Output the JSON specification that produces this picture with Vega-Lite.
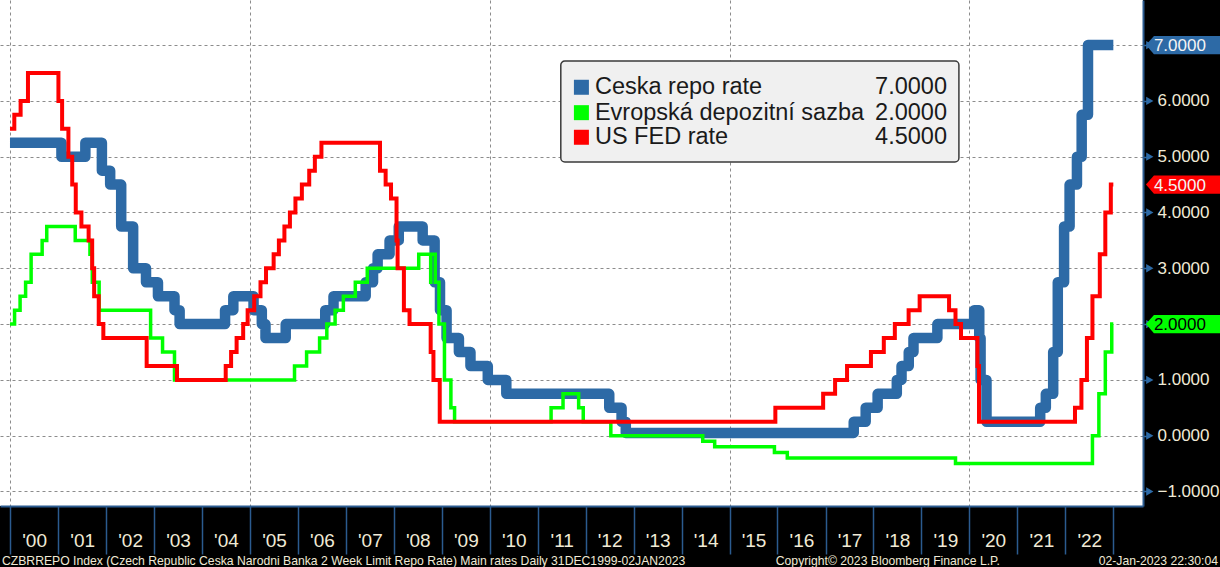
{
  "$schema": "https://vega.github.io/schema/vega-lite/v6.json",
  "width": 1143,
  "height": 506,
  "autosize": {"type": "none"},
  "padding": {"left": 0, "top": 0, "right": 77, "bottom": 61},
  "background": "#000000",
  "view": {"fill": "#ffffff", "stroke": null},
  "datasets": {
    "cz": [
      {"date": "1999-12-31", "rate": 5.25}, {"date": "2001-01-26", "rate": 5.0}, {"date": "2001-07-27", "rate": 5.25},
      {"date": "2001-11-30", "rate": 4.75}, {"date": "2002-02-01", "rate": 4.5}, {"date": "2002-04-26", "rate": 3.75},
      {"date": "2002-07-26", "rate": 3.0}, {"date": "2002-11-01", "rate": 2.75}, {"date": "2003-01-31", "rate": 2.5},
      {"date": "2003-06-06", "rate": 2.25}, {"date": "2003-07-15", "rate": 2.0}, {"date": "2004-06-25", "rate": 2.25},
      {"date": "2004-08-27", "rate": 2.5}, {"date": "2005-01-28", "rate": 2.25}, {"date": "2005-04-01", "rate": 2.0},
      {"date": "2005-04-29", "rate": 1.75}, {"date": "2005-09-30", "rate": 2.0}, {"date": "2006-07-28", "rate": 2.25},
      {"date": "2006-09-29", "rate": 2.5}, {"date": "2007-06-01", "rate": 2.75}, {"date": "2007-07-27", "rate": 3.0},
      {"date": "2007-08-31", "rate": 3.25}, {"date": "2007-11-30", "rate": 3.5}, {"date": "2008-02-08", "rate": 3.75},
      {"date": "2008-08-08", "rate": 3.5}, {"date": "2008-11-07", "rate": 2.75}, {"date": "2008-12-18", "rate": 2.25},
      {"date": "2009-02-06", "rate": 1.75}, {"date": "2009-05-11", "rate": 1.5}, {"date": "2009-08-07", "rate": 1.25},
      {"date": "2009-12-17", "rate": 1.0}, {"date": "2010-05-07", "rate": 0.75}, {"date": "2012-06-29", "rate": 0.5},
      {"date": "2012-10-01", "rate": 0.25}, {"date": "2012-11-02", "rate": 0.05}, {"date": "2017-08-04", "rate": 0.25},
      {"date": "2017-11-03", "rate": 0.5}, {"date": "2018-02-02", "rate": 0.75}, {"date": "2018-06-28", "rate": 1.0},
      {"date": "2018-08-03", "rate": 1.25}, {"date": "2018-09-27", "rate": 1.5}, {"date": "2018-11-02", "rate": 1.75},
      {"date": "2019-05-03", "rate": 2.0}, {"date": "2020-02-07", "rate": 2.25}, {"date": "2020-03-17", "rate": 1.75},
      {"date": "2020-03-27", "rate": 1.0}, {"date": "2020-05-11", "rate": 0.25}, {"date": "2021-06-24", "rate": 0.5},
      {"date": "2021-08-06", "rate": 0.75}, {"date": "2021-10-01", "rate": 1.5}, {"date": "2021-11-05", "rate": 2.75},
      {"date": "2021-12-23", "rate": 3.75}, {"date": "2022-02-03", "rate": 4.5}, {"date": "2022-03-31", "rate": 5.0},
      {"date": "2022-05-06", "rate": 5.75}, {"date": "2022-06-23", "rate": 7.0}, {"date": "2023-01-02", "rate": 7.0}
    ],
    "ecb": [
      {"date": "1999-12-31", "rate": 2.0}, {"date": "2000-02-04", "rate": 2.25}, {"date": "2000-03-17", "rate": 2.5},
      {"date": "2000-04-28", "rate": 2.75}, {"date": "2000-06-09", "rate": 3.25}, {"date": "2000-09-01", "rate": 3.5},
      {"date": "2000-10-06", "rate": 3.75}, {"date": "2001-05-11", "rate": 3.5}, {"date": "2001-08-31", "rate": 3.25},
      {"date": "2001-09-18", "rate": 2.75}, {"date": "2001-11-09", "rate": 2.25}, {"date": "2002-12-06", "rate": 1.75},
      {"date": "2003-03-07", "rate": 1.5}, {"date": "2003-06-06", "rate": 1.0}, {"date": "2005-12-06", "rate": 1.25},
      {"date": "2006-03-08", "rate": 1.5}, {"date": "2006-06-15", "rate": 1.75}, {"date": "2006-08-09", "rate": 2.0},
      {"date": "2006-10-11", "rate": 2.25}, {"date": "2006-12-13", "rate": 2.5}, {"date": "2007-03-14", "rate": 2.75},
      {"date": "2007-06-13", "rate": 3.0}, {"date": "2008-07-09", "rate": 3.25}, {"date": "2008-10-08", "rate": 2.75},
      {"date": "2008-10-09", "rate": 3.25}, {"date": "2008-11-12", "rate": 2.75}, {"date": "2008-12-10", "rate": 2.0},
      {"date": "2009-01-21", "rate": 1.0}, {"date": "2009-03-11", "rate": 0.5}, {"date": "2009-04-08", "rate": 0.25},
      {"date": "2011-04-13", "rate": 0.5}, {"date": "2011-07-13", "rate": 0.75}, {"date": "2011-11-09", "rate": 0.5},
      {"date": "2011-12-14", "rate": 0.25}, {"date": "2012-07-11", "rate": 0.0}, {"date": "2014-06-11", "rate": -0.1},
      {"date": "2014-09-10", "rate": -0.2}, {"date": "2015-12-09", "rate": -0.3}, {"date": "2016-03-16", "rate": -0.4},
      {"date": "2019-09-18", "rate": -0.5}, {"date": "2022-07-27", "rate": 0.0}, {"date": "2022-09-14", "rate": 0.75},
      {"date": "2022-11-02", "rate": 1.5}, {"date": "2022-12-21", "rate": 2.0}, {"date": "2023-01-02", "rate": 2.0}
    ],
    "fed": [
      {"date": "1999-12-31", "rate": 5.5}, {"date": "2000-02-02", "rate": 5.75}, {"date": "2000-03-21", "rate": 6.0},
      {"date": "2000-05-16", "rate": 6.5}, {"date": "2001-01-03", "rate": 6.0}, {"date": "2001-01-31", "rate": 5.5},
      {"date": "2001-03-20", "rate": 5.0}, {"date": "2001-04-18", "rate": 4.5}, {"date": "2001-05-15", "rate": 4.0},
      {"date": "2001-06-27", "rate": 3.75}, {"date": "2001-08-21", "rate": 3.5}, {"date": "2001-09-17", "rate": 3.0},
      {"date": "2001-10-02", "rate": 2.5}, {"date": "2001-11-06", "rate": 2.0}, {"date": "2001-12-11", "rate": 1.75},
      {"date": "2002-11-06", "rate": 1.25}, {"date": "2003-06-25", "rate": 1.0}, {"date": "2004-06-30", "rate": 1.25},
      {"date": "2004-08-10", "rate": 1.5}, {"date": "2004-09-21", "rate": 1.75}, {"date": "2004-11-10", "rate": 2.0},
      {"date": "2004-12-14", "rate": 2.25}, {"date": "2005-02-02", "rate": 2.5}, {"date": "2005-03-22", "rate": 2.75},
      {"date": "2005-05-03", "rate": 3.0}, {"date": "2005-06-30", "rate": 3.25}, {"date": "2005-08-09", "rate": 3.5},
      {"date": "2005-09-20", "rate": 3.75}, {"date": "2005-11-01", "rate": 4.0}, {"date": "2005-12-13", "rate": 4.25},
      {"date": "2006-01-31", "rate": 4.5}, {"date": "2006-03-28", "rate": 4.75}, {"date": "2006-05-10", "rate": 5.0},
      {"date": "2006-06-29", "rate": 5.25}, {"date": "2007-09-18", "rate": 4.75}, {"date": "2007-10-31", "rate": 4.5},
      {"date": "2007-12-11", "rate": 4.25}, {"date": "2008-01-22", "rate": 3.5}, {"date": "2008-01-30", "rate": 3.0},
      {"date": "2008-03-18", "rate": 2.25}, {"date": "2008-04-30", "rate": 2.0}, {"date": "2008-10-08", "rate": 1.5},
      {"date": "2008-10-29", "rate": 1.0}, {"date": "2008-12-16", "rate": 0.25}, {"date": "2015-12-16", "rate": 0.5},
      {"date": "2016-12-14", "rate": 0.75}, {"date": "2017-03-15", "rate": 1.0}, {"date": "2017-06-14", "rate": 1.25},
      {"date": "2017-12-13", "rate": 1.5}, {"date": "2018-03-21", "rate": 1.75}, {"date": "2018-06-13", "rate": 2.0},
      {"date": "2018-09-26", "rate": 2.25}, {"date": "2018-12-19", "rate": 2.5}, {"date": "2019-07-31", "rate": 2.25},
      {"date": "2019-09-18", "rate": 2.0}, {"date": "2019-10-30", "rate": 1.75}, {"date": "2020-03-03", "rate": 1.25},
      {"date": "2020-03-15", "rate": 0.25}, {"date": "2022-03-16", "rate": 0.5}, {"date": "2022-05-04", "rate": 1.0},
      {"date": "2022-06-15", "rate": 1.75}, {"date": "2022-07-27", "rate": 2.5}, {"date": "2022-09-21", "rate": 3.25},
      {"date": "2022-11-02", "rate": 4.0}, {"date": "2022-12-14", "rate": 4.5}, {"date": "2023-01-02", "rate": 4.5}
    ],
    "last": [
      {"series": "Ceska repo rate", "rate": 7.0, "label": "7.0000"},
      {"series": "Evropská depozitní sazba", "rate": 2.0, "label": "2.0000"},
      {"series": "US FED rate", "rate": 4.5, "label": "4.5000"}
    ],
    "majorTicks": [{"v": -1}, {"v": 0}, {"v": 1}, {"v": 2}, {"v": 3}, {"v": 4}, {"v": 5}, {"v": 6}, {"v": 7}],
    "footer": [
      {"part": "source", "text": "CZBRREPO Index (Czech Republic Ceska Narodni Banka 2 Week Limit Repo Rate) Main rates  Daily 31DEC1999-02JAN2023"},
      {"part": "copyright", "text": "Copyright© 2023 Bloomberg Finance L.P."},
      {"part": "stamp", "text": "02-Jan-2023 22:30:04"}
    ]
  },
  "layer": [
    {
      "data": {"name": "cz"},
      "mark": {"type": "line", "interpolate": "step-after", "color": "#2d6aa6", "strokeWidth": 10.5, "strokeJoin": "round", "strokeCap": "butt"},
      "encoding": {
        "x": {
          "field": "date", "type": "temporal",
          "scale": {"domain": [{"year": 1999, "month": 10, "date": 16}, {"year": 2023, "month": 8, "date": 16}]},
          "axis": {
            "title": null,
            "values": [
              {"year": 2000, "month": 1, "date": 1}, {"year": 2001, "month": 1, "date": 1}, {"year": 2002, "month": 1, "date": 1},
              {"year": 2003, "month": 1, "date": 1}, {"year": 2004, "month": 1, "date": 1}, {"year": 2005, "month": 1, "date": 1},
              {"year": 2006, "month": 1, "date": 1}, {"year": 2007, "month": 1, "date": 1}, {"year": 2008, "month": 1, "date": 1},
              {"year": 2009, "month": 1, "date": 1}, {"year": 2010, "month": 1, "date": 1}, {"year": 2011, "month": 1, "date": 1},
              {"year": 2012, "month": 1, "date": 1}, {"year": 2013, "month": 1, "date": 1}, {"year": 2014, "month": 1, "date": 1},
              {"year": 2015, "month": 1, "date": 1}, {"year": 2016, "month": 1, "date": 1}, {"year": 2017, "month": 1, "date": 1},
              {"year": 2018, "month": 1, "date": 1}, {"year": 2019, "month": 1, "date": 1}, {"year": 2020, "month": 1, "date": 1},
              {"year": 2021, "month": 1, "date": 1}, {"year": 2022, "month": 1, "date": 1}, {"year": 2023, "month": 1, "date": 1}
            ],
            "format": "'%y",
            "labelExpr": "year(datum.value) < 2023 ? datum.label : ''",
            "labelOffset": 24,
            "labelAlign": "center",
            "labelBaseline": "middle",
            "labelPadding": -14,
            "labelFont": "Liberation Sans Narrow, Arial Narrow, Liberation Sans",
            "labelFontSize": 19,
            "labelColor": "#f0ead6",
            "labelOverlap": false,
            "tickSize": 48,
            "tickColor": "#2b5b8f",
            "tickWidth": 1.5,
            "domainColor": "#2b5b8f",
            "domainWidth": 2,
            "grid": true,
            "gridColor": "#8c8c8c",
            "gridDash": [3, 3],
            "gridWidth": 1,
            "gridOpacity": {"condition": {"test": "year(datum.value) % 5 === 0", "value": 1}, "value": 0}
          }
        },
        "y": {
          "field": "rate", "type": "quantitative",
          "scale": {"domain": [-1.26, 7.808], "nice": false, "zero": false},
          "axis": {
            "title": null,
            "orient": "right",
            "values": [-1, -0.5, 0, 0.5, 1, 1.5, 2, 2.5, 3, 3.5, 4, 4.5, 5, 5.5, 6, 6.5, 7, 7.5],
            "labelExpr": "(datum.value % 1 === 0 && datum.value !== 7 && datum.value !== 2) ? format(datum.value, '.4f') : ''",
            "labelFont": "Liberation Sans",
            "labelFontSize": 17,
            "labelColor": "#f0ead6",
            "labelPadding": 9,
            "tickSize": 5,
            "tickColor": "#2d6aa6",
            "tickWidth": 1.5,
            "domainColor": "#2b5b8f",
            "domainWidth": 2,
            "grid": true,
            "gridColor": "#8c8c8c",
            "gridDash": [3, 3],
            "gridWidth": 1,
            "gridOpacity": {"condition": {"test": "datum.value % 1 === 0", "value": 1}, "value": 0}
          }
        }
      }
    },
    {
      "mark": {"type": "rule", "color": "#333333", "strokeWidth": 1.5},
      "encoding": {"y": {"datum": 0, "type": "quantitative", "scale": {"domain": [-1.26, 7.808], "nice": false, "zero": false}}}
    },
    {
      "data": {"name": "ecb"},
      "mark": {"type": "line", "interpolate": "step-after", "color": "#00ff00", "strokeWidth": 3.5},
      "encoding": {
        "x": {"field": "date", "type": "temporal", "title": null, "scale": {"domain": [{"year": 1999, "month": 10, "date": 16}, {"year": 2023, "month": 8, "date": 16}]}},
        "y": {"field": "rate", "type": "quantitative", "title": null, "scale": {"domain": [-1.26, 7.808], "nice": false, "zero": false}}
      }
    },
    {
      "data": {"name": "fed"},
      "mark": {"type": "line", "interpolate": "step-after", "color": "#ff0000", "strokeWidth": 4},
      "encoding": {
        "x": {"field": "date", "type": "temporal", "title": null, "scale": {"domain": [{"year": 1999, "month": 10, "date": 16}, {"year": 2023, "month": 8, "date": 16}]}},
        "y": {"field": "rate", "type": "quantitative", "title": null, "scale": {"domain": [-1.26, 7.808], "nice": false, "zero": false}}
      }
    },
    {
      "data": {"name": "majorTicks"},
      "mark": {"type": "point", "shape": "triangle-right", "filled": true, "color": "#2d6aa6", "size": 70, "opacity": 1},
      "encoding": {
        "x": {"datum": {"year": 2023, "month": 10, "date": 7}, "type": "temporal", "scale": {"domain": [{"year": 1999, "month": 10, "date": 16}, {"year": 2023, "month": 8, "date": 16}]}},
        "y": {"field": "v", "type": "quantitative", "title": null, "scale": {"domain": [-1.26, 7.808], "nice": false, "zero": false}}
      }
    },
    {
      "data": {"name": "last"},
      "mark": {"type": "point", "shape": "M-1,0L-0.79,-0.24L1,-0.24L1,0.24L-0.79,0.24Z", "filled": true, "size": 5776, "opacity": 1, "strokeWidth": 0},
      "encoding": {
        "x": {"datum": {"year": 2024, "month": 6, "date": 23}, "type": "temporal", "scale": {"domain": [{"year": 1999, "month": 10, "date": 16}, {"year": 2023, "month": 8, "date": 16}]}},
        "y": {"field": "rate", "type": "quantitative", "title": null, "scale": {"domain": [-1.26, 7.808], "nice": false, "zero": false}},
        "color": {"field": "series", "type": "nominal", "legend": null, "scale": {"domain": ["Ceska repo rate", "Evropská depozitní sazba", "US FED rate"], "range": ["#2d6aa6", "#00ff00", "#ff0000"]}}
      }
    },
    {
      "data": {"name": "last"},
      "mark": {"type": "text", "align": "center", "baseline": "middle", "font": "Liberation Sans", "fontSize": 17, "dy": 1},
      "encoding": {
        "x": {"datum": {"year": 2024, "month": 5, "date": 23}, "type": "temporal", "scale": {"domain": [{"year": 1999, "month": 10, "date": 16}, {"year": 2023, "month": 8, "date": 16}]}},
        "y": {"field": "rate", "type": "quantitative", "title": null, "scale": {"domain": [-1.26, 7.808], "nice": false, "zero": false}},
        "text": {"field": "label"},
        "color": {"condition": {"test": "datum.series === 'Evropská depozitní sazba'", "value": "#000000"}, "value": "#f4f4f4"}
      }
    },
    {
      "data": {"values": [{"box": "legend"}]},
      "mark": {"type": "rect", "fill": "#f0f0f0", "stroke": "#3a3a3a", "strokeWidth": 1.5, "cornerRadius": 4},
      "encoding": {
        "x": {"datum": {"year": 2011, "month": 6, "date": 26}, "type": "temporal", "scale": {"domain": [{"year": 1999, "month": 10, "date": 16}, {"year": 2023, "month": 8, "date": 16}]}},
        "x2": {"datum": {"year": 2019, "month": 10, "date": 14}},
        "y": {"datum": 6.715, "type": "quantitative", "scale": {"domain": [-1.26, 7.808], "nice": false, "zero": false}},
        "y2": {"datum": 4.905}
      }
    },
    {
      "data": {"name": "last"},
      "transform": [{"filter": "datum.series === 'Ceska repo rate'"}],
      "layer": [
        {
          "mark": {"type": "point", "shape": "square", "filled": true, "size": 225, "opacity": 1},
          "encoding": {
            "x": {"datum": {"year": 2011, "month": 11, "date": 30}, "type": "temporal", "scale": {"domain": [{"year": 1999, "month": 10, "date": 16}, {"year": 2023, "month": 8, "date": 16}]}},
            "y": {"datum": 6.244, "type": "quantitative", "scale": {"domain": [-1.26, 7.808], "nice": false, "zero": false}},
            "color": {"field": "series", "type": "nominal", "legend": null, "scale": {"domain": ["Ceska repo rate", "Evropská depozitní sazba", "US FED rate"], "range": ["#2d6aa6", "#00ff00", "#ff0000"]}}
          }
        },
        {
          "mark": {"type": "text", "align": "left", "baseline": "middle", "font": "Liberation Sans", "fontSize": 23.5, "color": "#1a1a1a"},
          "encoding": {
            "x": {"datum": {"year": 2012, "month": 3, "date": 12}, "type": "temporal", "scale": {"domain": [{"year": 1999, "month": 10, "date": 16}, {"year": 2023, "month": 8, "date": 16}]}},
            "y": {"datum": 6.244, "type": "quantitative", "scale": {"domain": [-1.26, 7.808], "nice": false, "zero": false}},
            "text": {"field": "series"}
          }
        },
        {
          "mark": {"type": "text", "align": "right", "baseline": "middle", "font": "Liberation Sans", "fontSize": 23.5, "color": "#1a1a1a"},
          "encoding": {
            "x": {"datum": {"year": 2019, "month": 7, "date": 15}, "type": "temporal", "scale": {"domain": [{"year": 1999, "month": 10, "date": 16}, {"year": 2023, "month": 8, "date": 16}]}},
            "y": {"datum": 6.244, "type": "quantitative", "scale": {"domain": [-1.26, 7.808], "nice": false, "zero": false}},
            "text": {"field": "label"}
          }
        }
      ]
    },
    {
      "data": {"name": "last"},
      "transform": [{"filter": "datum.series === 'Evropská depozitní sazba'"}],
      "layer": [
        {
          "mark": {"type": "point", "shape": "square", "filled": true, "size": 225, "opacity": 1},
          "encoding": {
            "x": {"datum": {"year": 2011, "month": 11, "date": 30}, "type": "temporal", "scale": {"domain": [{"year": 1999, "month": 10, "date": 16}, {"year": 2023, "month": 8, "date": 16}]}},
            "y": {"datum": 5.789, "type": "quantitative", "scale": {"domain": [-1.26, 7.808], "nice": false, "zero": false}},
            "color": {"field": "series", "type": "nominal", "legend": null, "scale": {"domain": ["Ceska repo rate", "Evropská depozitní sazba", "US FED rate"], "range": ["#2d6aa6", "#00ff00", "#ff0000"]}}
          }
        },
        {
          "mark": {"type": "text", "align": "left", "baseline": "middle", "font": "Liberation Sans", "fontSize": 23.5, "color": "#1a1a1a"},
          "encoding": {
            "x": {"datum": {"year": 2012, "month": 3, "date": 12}, "type": "temporal", "scale": {"domain": [{"year": 1999, "month": 10, "date": 16}, {"year": 2023, "month": 8, "date": 16}]}},
            "y": {"datum": 5.789, "type": "quantitative", "scale": {"domain": [-1.26, 7.808], "nice": false, "zero": false}},
            "text": {"field": "series"}
          }
        },
        {
          "mark": {"type": "text", "align": "right", "baseline": "middle", "font": "Liberation Sans", "fontSize": 23.5, "color": "#1a1a1a"},
          "encoding": {
            "x": {"datum": {"year": 2019, "month": 7, "date": 15}, "type": "temporal", "scale": {"domain": [{"year": 1999, "month": 10, "date": 16}, {"year": 2023, "month": 8, "date": 16}]}},
            "y": {"datum": 5.789, "type": "quantitative", "scale": {"domain": [-1.26, 7.808], "nice": false, "zero": false}},
            "text": {"field": "label"}
          }
        }
      ]
    },
    {
      "data": {"name": "last"},
      "transform": [{"filter": "datum.series === 'US FED rate'"}],
      "layer": [
        {
          "mark": {"type": "point", "shape": "square", "filled": true, "size": 225, "opacity": 1},
          "encoding": {
            "x": {"datum": {"year": 2011, "month": 11, "date": 30}, "type": "temporal", "scale": {"domain": [{"year": 1999, "month": 10, "date": 16}, {"year": 2023, "month": 8, "date": 16}]}},
            "y": {"datum": 5.348, "type": "quantitative", "scale": {"domain": [-1.26, 7.808], "nice": false, "zero": false}},
            "color": {"field": "series", "type": "nominal", "legend": null, "scale": {"domain": ["Ceska repo rate", "Evropská depozitní sazba", "US FED rate"], "range": ["#2d6aa6", "#00ff00", "#ff0000"]}}
          }
        },
        {
          "mark": {"type": "text", "align": "left", "baseline": "middle", "font": "Liberation Sans", "fontSize": 23.5, "color": "#1a1a1a"},
          "encoding": {
            "x": {"datum": {"year": 2012, "month": 3, "date": 12}, "type": "temporal", "scale": {"domain": [{"year": 1999, "month": 10, "date": 16}, {"year": 2023, "month": 8, "date": 16}]}},
            "y": {"datum": 5.348, "type": "quantitative", "scale": {"domain": [-1.26, 7.808], "nice": false, "zero": false}},
            "text": {"field": "series"}
          }
        },
        {
          "mark": {"type": "text", "align": "right", "baseline": "middle", "font": "Liberation Sans", "fontSize": 23.5, "color": "#1a1a1a"},
          "encoding": {
            "x": {"datum": {"year": 2019, "month": 7, "date": 15}, "type": "temporal", "scale": {"domain": [{"year": 1999, "month": 10, "date": 16}, {"year": 2023, "month": 8, "date": 16}]}},
            "y": {"datum": 5.348, "type": "quantitative", "scale": {"domain": [-1.26, 7.808], "nice": false, "zero": false}},
            "text": {"field": "label"}
          }
        }
      ]
    },
    {
      "data": {"name": "footer"},
      "transform": [{"filter": "datum.part === 'source'"}],
      "mark": {"type": "text", "align": "left", "baseline": "middle", "font": "Liberation Sans Narrow, Arial Narrow, Liberation Sans", "fontSize": 12.2, "color": "#f0ead6"},
      "encoding": {
        "x": {"datum": {"year": 1999, "month": 10, "date": 31}, "type": "temporal", "scale": {"domain": [{"year": 1999, "month": 10, "date": 16}, {"year": 2023, "month": 8, "date": 16}]}},
        "y": {"datum": -2.245, "type": "quantitative", "scale": {"domain": [-1.26, 7.808], "nice": false, "zero": false}},
        "text": {"field": "text"}
      }
    },
    {
      "data": {"name": "footer"},
      "transform": [{"filter": "datum.part === 'copyright'"}],
      "mark": {"type": "text", "align": "center", "baseline": "middle", "font": "Liberation Sans Narrow, Arial Narrow, Liberation Sans", "fontSize": 12.2, "color": "#f0ead6"},
      "encoding": {
        "x": {"datum": {"year": 2018, "month": 4, "date": 21}, "type": "temporal", "scale": {"domain": [{"year": 1999, "month": 10, "date": 16}, {"year": 2023, "month": 8, "date": 16}]}},
        "y": {"datum": -2.245, "type": "quantitative", "scale": {"domain": [-1.26, 7.808], "nice": false, "zero": false}},
        "text": {"field": "text"}
      }
    },
    {
      "data": {"name": "footer"},
      "transform": [{"filter": "datum.part === 'stamp'"}],
      "mark": {"type": "text", "align": "right", "baseline": "middle", "font": "Liberation Sans Narrow, Arial Narrow, Liberation Sans", "fontSize": 12.2, "color": "#f0ead6"},
      "encoding": {
        "x": {"datum": {"year": 2025, "month": 3, "date": 9}, "type": "temporal", "scale": {"domain": [{"year": 1999, "month": 10, "date": 16}, {"year": 2023, "month": 8, "date": 16}]}},
        "y": {"datum": -2.245, "type": "quantitative", "scale": {"domain": [-1.26, 7.808], "nice": false, "zero": false}},
        "text": {"field": "text"}
      }
    }
  ]
}
